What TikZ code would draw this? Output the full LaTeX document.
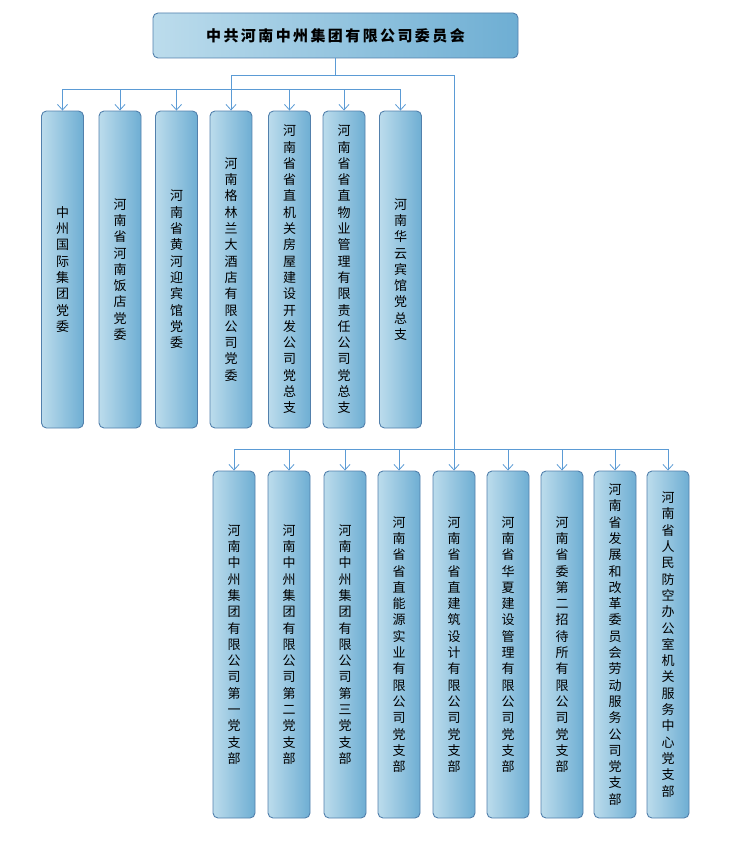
\documentclass[tikz,border=0pt]{standalone}
\usepackage{fontspec}
\setmainfont{Noto Sans CJK SC}
\XeTeXlinebreaklocale "zh"
\XeTeXlinebreakskip=0pt plus 1pt
\usetikzlibrary{arrows.meta,positioning,calc}
\definecolor{boxline}{HTML}{5280AC}
\definecolor{boxlight}{HTML}{BCDCEC}
\definecolor{boxdark}{HTML}{6EAED3}
\definecolor{wire}{HTML}{5B9BD5}

\begin{document}
\begin{tikzpicture}[x=1pt,y=-1pt,
  unit/.style={draw=boxline,left color=boxlight,right color=boxdark,rounded corners=5pt,line width=.9pt},
  head/.style={unit,minimum width=365pt,minimum height=45pt,font=\fontsize{15}{18}\selectfont\bfseries\addfontfeature{LetterSpace=16}},
  col/.style={unit,minimum width=42pt,text width=14pt,align=center,inner sep=0pt,font=\fontsize{13}{16.3}\selectfont},
  rowa/.style={col,minimum height=317pt},rowb/.style={col,minimum height=347pt},
  wire/.style={draw=wire,line width=.8pt},
  arr/.style={wire,-{Straight Barb[length=5.5pt,width=10pt]}}]
\useasboundingbox (0,0) rectangle (733,843);
\node[head] (top) at (335.5,35.5) {中共河南中州集团有限公司委员会};
% first row
\node[rowa] (a1) at (62.5,269.5) {中州国际集团党委};\node[rowa] (a2) at (120,269.5) {河南省河南饭店党委};
\node[rowa] (a3) at (176.5,269.5) {河南省黄河迎宾馆党委};\node[rowa] (a4) at (231,269.5) {河南格林兰大酒店有限公司党委};
\node[rowa] (a5) at (289.5,269.5) {河南省省直机关房屋建设开发公司党总支};\node[rowa] (a6) at (344,269.5) {河南省省直物业管理有限责任公司党总支};
\node[rowa] (a7) at (400.5,269.5) {河南华云宾馆党总支};
% second row
\node[rowb] (b1) at (234,644.5) {河南中州集团有限公司第一党支部};\node[rowb] (b2) at (289,644.5) {河南中州集团有限公司第二党支部};
\node[rowb] (b3) at (345,644.5) {河南中州集团有限公司第三党支部};\node[rowb] (b4) at (399,644.5) {河南省省直能源实业有限公司党支部};
\node[rowb] (b5) at (454,644.5) {河南省省直建筑设计有限公司党支部};\node[rowb] (b6) at (508,644.5) {河南省华夏建设管理有限公司党支部};
\node[rowb] (b7) at (562,644.5) {河南省委第二招待所有限公司党支部};\node[rowb] (b8) at (615,644.5) {河南省发展和改革委员会劳动服务公司党支部};
\node[rowb] (b9) at (668,644.5) {河南省人民防空办公室机关服务中心党支部};
% buses
\coordinate (busT) at (0,75);\coordinate (busA) at (0,89);\coordinate (busB) at (0,449);
\draw[wire] (top.south) -- (top.south|-busT);\draw[wire] (a4.north|-busT) -- (b5.north|-busT) -- (b5.north|-busB);
\draw[wire] (a1.north|-busA) -- (a7.north|-busA);\draw[wire] (b1.north|-busB) -- (b9.north|-busB);
\draw[arr] (a4.north|-busT) -- (a4.north);
\foreach \n in {a1,a2,a3,a5,a6,a7}{\draw[arr] (\n.north|-busA) -- (\n.north);}
\foreach \n in {b1,b2,b3,b4,b5,b6,b7,b8,b9}{\draw[arr] (\n.north|-busB) -- (\n.north);}
\end{tikzpicture}
\end{document}
